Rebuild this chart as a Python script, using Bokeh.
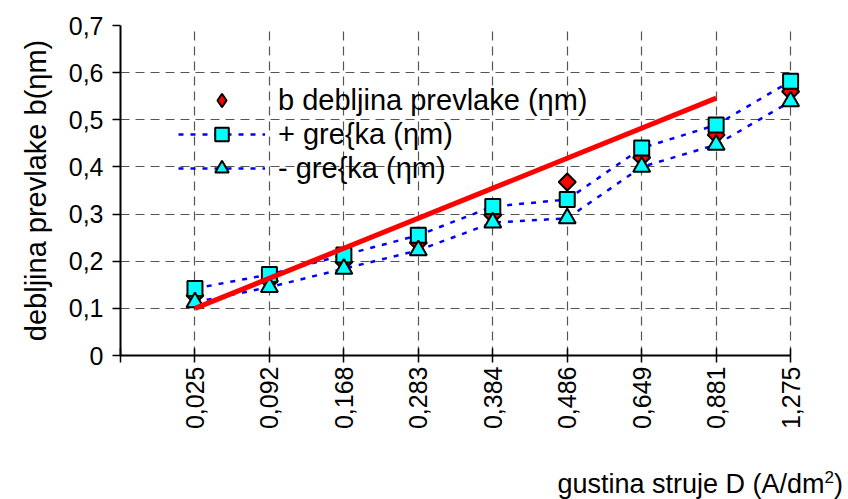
from bokeh.plotting import figure
from bokeh.layouts import column
from bokeh.models import (ColumnDataSource, Range1d, FixedTicker, Legend,
                          LegendItem, Div)
from bokeh.embed import file_html
from bokeh.resources import INLINE
import math

# current density categories (A/dm2)
categories = ["0,025", "0,092", "0,168", "0,283", "0,384",
              "0,486", "0,649", "0,881", "1,275"]
# coating thickness b and its upper / lower error values
thickness = [0.127, 0.158, 0.198, 0.239, 0.298, 0.368, 0.420, 0.468, 0.560]
err_plus = [0.142, 0.172, 0.213, 0.255, 0.316, 0.331, 0.440, 0.489, 0.582]
err_minus = [0.113, 0.145, 0.184, 0.223, 0.282, 0.291, 0.400, 0.447, 0.539]
# straight trend line between the 1st and 8th category
trend_pos = [1, 8]
trend_vals = [0.100, 0.546]
# y axis ticks
y_ticks = [0, 0.1, 0.2, 0.3, 0.4, 0.5, 0.6, 0.7]
y_tick_labels = ["0", "0,1", "0,2", "0,3", "0,4", "0,5", "0,6", "0,7"]

FONT = "Liberation Sans"
pos = list(range(1, len(categories) + 1))

src = ColumnDataSource(dict(x=pos, b=thickness, up=err_plus, lo=err_minus))

p = figure(frame_width=685, frame_height=330,
           x_range=Range1d(0, 9.2), y_range=Range1d(0, 0.7),
           output_backend="svg", toolbar_location=None,
           min_border_left=120, min_border_right=43,
           min_border_top=25, min_border_bottom=114,
           background_fill_color="white", border_fill_color="white")
p.outline_line_color = None

# axes
xt = FixedTicker(ticks=[0] + pos)
p.xaxis.ticker = xt
p.xaxis.bounds = (0, len(categories))
p.xaxis.major_label_overrides = {0: ""} | {i: c for i, c in zip(pos, categories)}
p.xaxis.major_label_orientation = math.pi / 2
p.xaxis.major_label_text_font = FONT
p.xaxis.major_label_text_font_size = "25px"
p.xaxis.major_label_text_color = "black"
p.xaxis.major_label_standoff = 4
p.xaxis.major_tick_in = 7
p.xaxis.major_tick_out = 7
p.xaxis.minor_tick_line_color = None

p.yaxis.ticker = FixedTicker(ticks=y_ticks)
p.yaxis.major_label_overrides = dict(zip(y_ticks, y_tick_labels))
p.yaxis.major_label_text_font = FONT
p.yaxis.major_label_text_font_size = "25px"
p.yaxis.major_label_text_color = "black"
p.yaxis.major_label_standoff = 9
p.yaxis.major_tick_in = 0
p.yaxis.major_tick_out = 8
p.yaxis.minor_tick_line_color = None
p.yaxis.axis_label = "debljina prevlake b(\u03b7m)"
p.yaxis.axis_label_text_font = FONT
p.yaxis.axis_label_text_font_size = "29px"
p.yaxis.axis_label_text_font_style = "normal"
p.yaxis.axis_label_text_color = "black"
p.yaxis.axis_label_standoff = 14

for ax in (p.xaxis, p.yaxis):
    ax.axis_line_color = "black"
    ax.axis_line_width = 2
    ax.major_tick_line_color = "black"
    ax.major_tick_line_width = 1.5

# dashed grid
for g in (p.xgrid, p.ygrid):
    g.grid_line_color = "#555555"
    g.grid_line_dash = "9 6"
    g.grid_line_width = 1.2
p.xgrid.ticker = xt
p.ygrid.ticker = FixedTicker(ticks=y_ticks)
p.ygrid.cross_bounds = (0, len(categories))

# error band lines
up_line = p.line("x", "up", source=src, line_color="#0000ff",
                 line_width=2.5, line_dash="5 7")
lo_line = p.line("x", "lo", source=src, line_color="#0000ff",
                 line_width=2.5, line_dash="5 7")

# markers (diamonds as squares turned by 45 degrees)
p.scatter("x", "b", source=src, marker="square", angle=math.pi / 4,
          size=12, fill_color="#ff0000", line_color="black", line_width=2)
sq = p.scatter("x", "up", source=src, marker="square", size=15,
               fill_color="#00ffff", line_color="black", line_width=2)
tri = p.scatter("x", "lo", source=src, marker="triangle", size=17,
                fill_color="#00ffff", line_color="black", line_width=2)

# legend key for the thickness series (the legend draws markers unrotated);
# its single point lies outside the visible ranges
dia_key = p.scatter(x=[-5], y=[-5], marker="diamond", size=12,
                    fill_color="#ff0000", line_color="black", line_width=2)

# trend line
p.line(trend_pos, trend_vals, line_color="#ff0000", line_width=5)

legend = Legend(items=[
    LegendItem(label="b debljina prevlake (\u03b7m)", renderers=[dia_key]),
    LegendItem(label="+ gre{ka (\u03b7m)", renderers=[up_line, sq]),
    LegendItem(label="- gre{ka (\u03b7m)", renderers=[lo_line, tri]),
], location=(58, 170))
legend.background_fill_alpha = 0
legend.border_line_alpha = 0
legend.padding = 0
legend.margin = 0
legend.spacing = 0
legend.glyph_width = 87
legend.glyph_height = 34
legend.label_height = 34
legend.label_standoff = 13
legend.label_text_font = FONT
legend.label_text_font_size = "29px"
legend.label_text_color = "black"
p.add_layout(legend)

# x axis title, right-aligned under the tick labels
xtitle = Div(
    text=('<div style="width:843px;text-align:right;'
          'font-family:\'Liberation Sans\';font-size:27px;line-height:30px;'
          'white-space:nowrap;color:black">'
          'gustina struje D (A/dm<sup style="font-size:17px;'
          'line-height:0">2</sup>)</div>'),
    width=848, height=30, margin=0)

layout = column(p, xtitle, spacing=0)

open("out.html", "w").write(file_html(layout, INLINE))
